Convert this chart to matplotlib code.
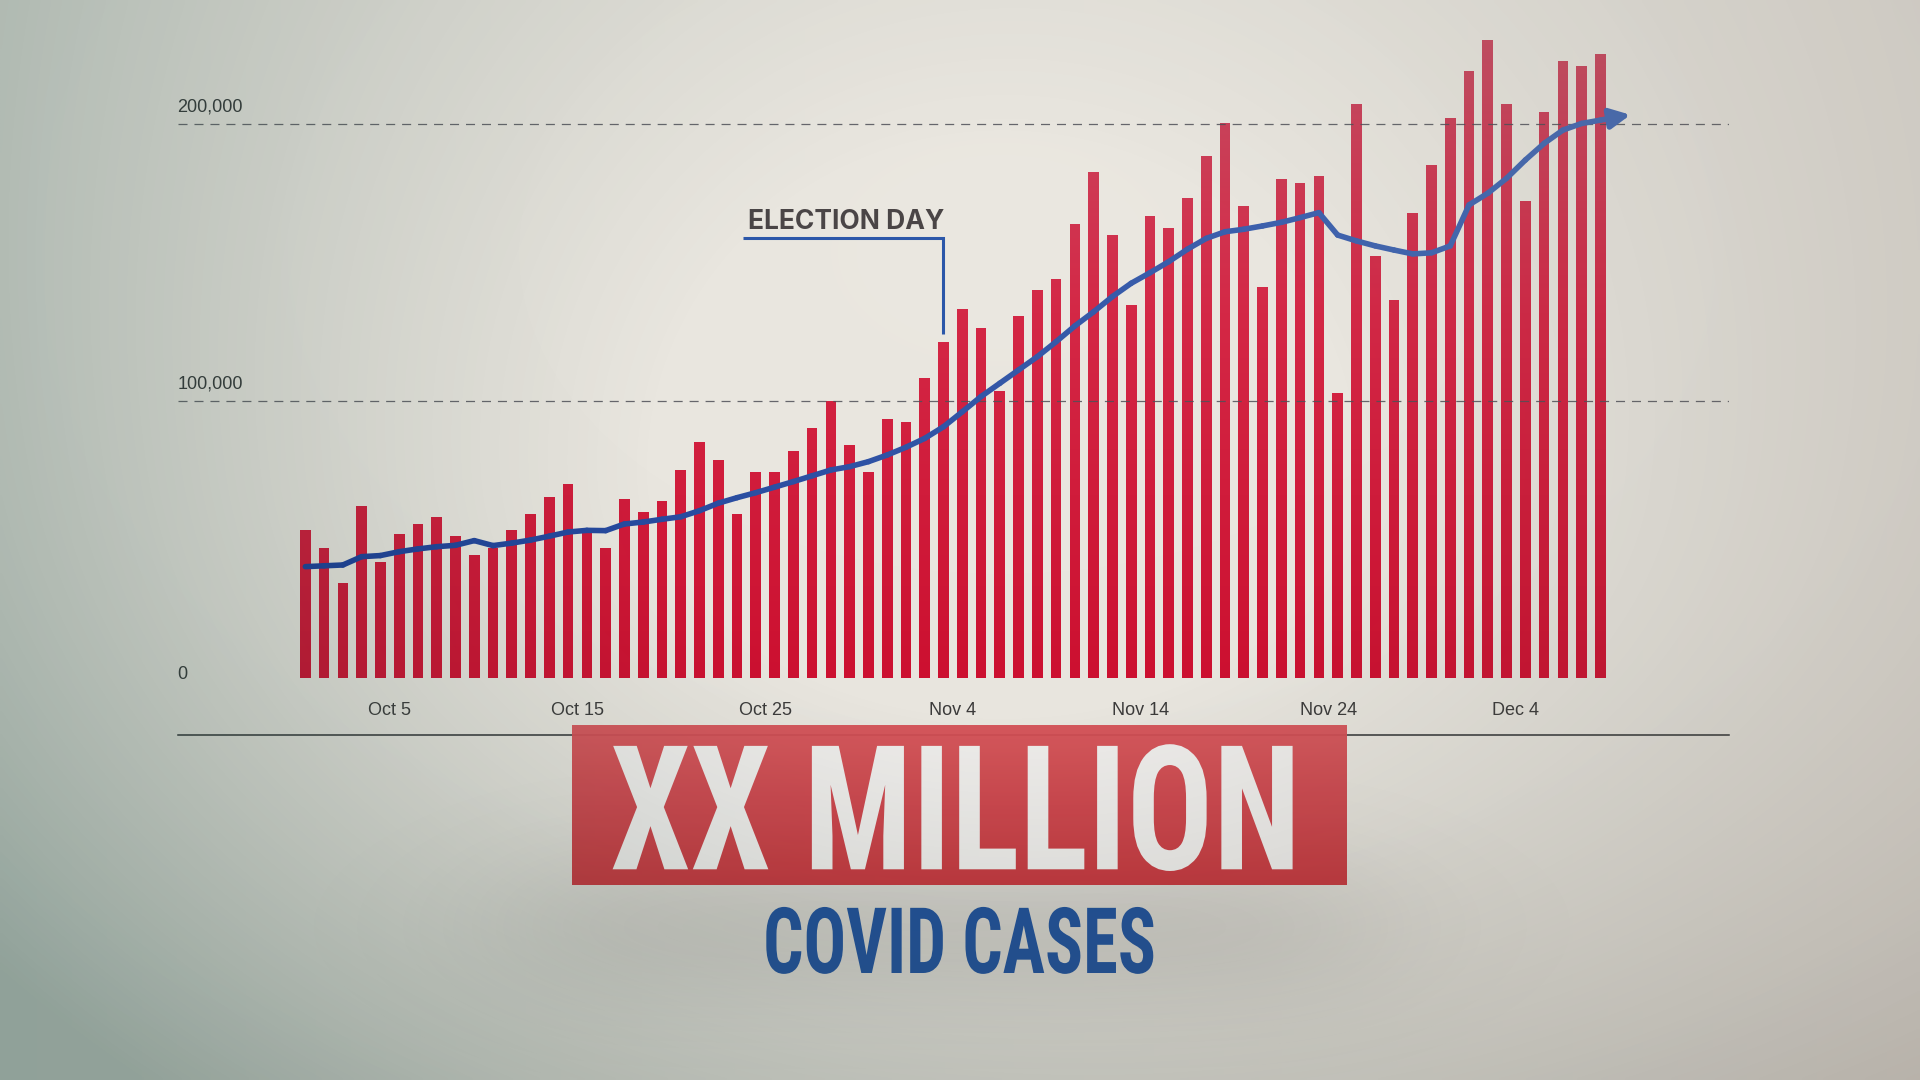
import numpy as np
import pandas as pd
import matplotlib
matplotlib.use("Agg")
import matplotlib.pyplot as plt
from matplotlib import patheffects, font_manager
from matplotlib.transforms import Affine2D, blended_transform_factory, offset_copy
from matplotlib.path import Path
from matplotlib.patches import PathPatch
from matplotlib.collections import LineCollection

# ---------------- data ----------------
START_DATE = "2020-09-30"
daily_cases = [
    53400, 47000, 34400, 62100, 41900, 52000, 55600, 58100, 51300, 44300,
    47000, 53400, 59200, 65500, 70100, 53100, 47000, 64600, 59900, 63800,
    75100, 85200, 78600, 59200, 74300, 74300, 81800, 90300, 100000, 84200,
    74300, 93500, 92500, 108400, 121400, 133200, 126400, 103700, 130700, 140100,
    143900, 163900, 182700, 159800, 134800, 166900, 162600, 173300, 188400, 200400,
    170400, 141200, 180100, 178700, 181200, 102800, 207100, 152200, 136300, 167900,
    185100, 202300, 219100, 230300, 207200, 172300, 204300, 222900, 221100, 225200,
]
avg_cases = [
    40200, 40500, 40800, 43800, 44200, 45600, 46600, 47400, 47900, 49600,
    47800, 48700, 49800, 51200, 52700, 53300, 53200, 55600, 56300, 57300,
    58200, 60400, 63100, 65100, 66900, 68900, 70900, 73000, 75100, 76300,
    78100, 80500, 83300, 86500, 90700, 96100, 101600, 106400, 111200, 116000,
    121400, 127100, 132200, 137700, 142500, 146300, 150300, 154800, 158700, 161100,
    162000, 163200, 164500, 166200, 168000, 159900, 157800, 156000, 154500, 153100,
    153500, 156000, 170800, 175000, 180400, 187000, 193000, 197800, 200200, 201400,
]
tick_labels = ["Oct 5", "Oct 15", "Oct 25", "Nov 4", "Nov 14", "Nov 24", "Dec 4"]
y_ticks = [0, 100000, 200000]
y_tick_labels = ["0", "100,000", "200,000"]
event_date = "2020-11-03"
event_label = "ELECTION DAY"
headline = "XX MILLION"
subheadline = "COVID CASES"

# ---------------- fonts ----------------
available = {f.name for f in font_manager.fontManager.ttflist}
def pick(*names):
    for n in names:
        if n in available:
            return n
    return "DejaVu Sans"
COND = pick("Liberation Sans Narrow", "Roboto Condensed", "DejaVu Sans")
SANS = pick("Liberation Sans", "Inter", "DejaVu Sans")
BOLD = pick("Inter", "Lato", "DejaVu Sans")
plt.rcParams["lines.scale_dashes"] = False


class Condense(patheffects.AbstractPathEffect):
    """Squeeze the rendered text horizontally to a target width (px at 100 dpi)."""
    def __init__(self, width_px):
        super().__init__()
        self.width_px = width_px

    def draw_path(self, renderer, gc, tpath, affine, rgbFace=None):
        bb = tpath.get_extents(affine)
        target = renderer.points_to_pixels(self.width_px * 0.72)
        sx = target / bb.width if bb.width > 0 else 1.0
        c = 0.5 * (bb.x0 + bb.x1)
        t = affine + Affine2D().translate(-c, 0).scale(sx, 1).translate(c, 0)
        renderer.draw_path(gc, tpath, t, rgbFace)


dates = pd.date_range(START_DATE, periods=len(daily_cases), freq="D")
x = np.arange(len(dates))
cases = np.array(daily_cases, dtype=float)
avg = np.array(avg_cases, dtype=float)
tick_pos = [(pd.Timestamp(lbl + " 2020") - dates[0]).days - 0.5 for lbl in tick_labels]
ev_idx = int((pd.Timestamp(event_date) - dates[0]).days)

W, H = 1920, 1080
fig = plt.figure(figsize=(19.2, 10.8), dpi=100)

# ---------------- background ----------------
gy, gx = np.mgrid[0:H:4, 0:W:4].astype(float)
bg_ax = fig.add_axes([0, 0, 1, 1], zorder=0)
base = np.array([233, 230, 223]) / 255.0
lift = np.exp(-(((gx - 1000) / 900) ** 2 + ((gy - 250) / 600) ** 2))[..., None]
bg = base * (0.985 + 0.02 * lift)
bg_ax.imshow(np.clip(bg, 0, 1), extent=[0, W, H, 0], aspect="auto", interpolation="bilinear")
bg_ax.set_xlim(0, W); bg_ax.set_ylim(H, 0); bg_ax.axis("off")

# ---------------- chart ----------------
ax = fig.add_axes([177.5 / W, (H - 735) / H, (1729 - 177.5) / W, 721.8 / H], zorder=2)
ax.set_facecolor("none")

bars = ax.bar(x, cases, width=0.57, color="#cf1a3c", linewidth=0, zorder=2)
paths = [b.get_path().transformed(b.get_patch_transform()) for b in bars]
compound = Path.make_compound_path(*paths)
clip = PathPatch(compound, transform=ax.transData, facecolor="none", edgecolor="none")
XL = (-6.81, 75.85)
YL = (-20580, 240000)
c_bot = np.array([204, 16, 48]) / 255.0
c_mid = np.array([212, 40, 70]) / 255.0
c_top = np.array([200, 80, 102]) / 255.0
tt = np.linspace(0, 1, 256)[:, None]
grad = np.where(tt < 0.55, c_bot + (c_mid - c_bot) * (tt / 0.55),
                c_mid + (c_top - c_mid) * ((tt - 0.55) / 0.45))
im = ax.imshow(grad[:, None, :], extent=[XL[0], XL[1], 0, 240000], origin="lower",
               aspect="auto", interpolation="bilinear", zorder=2.1)
im.set_clip_path(clip)

for yt in y_ticks[1:]:
    ax.axhline(yt, color="#4f5058", lw=0.9, dashes=(6.5, 5.0), alpha=0.85, zorder=3)

# moving-average line with colour drift
pts = np.column_stack([x, avg])
segs = np.stack([pts[:-1], pts[1:]], axis=1)
c0 = np.array([27, 62, 152]) / 255.0
c1 = np.array([72, 108, 180]) / 255.0
fr = np.linspace(0, 1, len(segs))[:, None]
lc = LineCollection(segs, colors=c0 + (c1 - c0) * fr, linewidths=4.0,
                    capstyle="round", joinstyle="round", zorder=5)
ax.add_collection(lc)
tip_x = x[-1] + 1.6
tip_y = avg[-1] + 1.6 * (avg[-1] - avg[-2])
ax.annotate("", xy=(tip_x, tip_y), xytext=(x[-1], avg[-1]),
            arrowprops=dict(arrowstyle="-|>,head_length=0.6,head_width=0.3",
                            color=c1, lw=4.0, shrinkA=0, shrinkB=0,
                            mutation_scale=20), zorder=5)

# election-day annotation
ann_y = 158700
ann_x0 = ev_idx - 10.7
ax.plot([ann_x0, ev_idx, ev_idx], [ann_y, ann_y, cases[ev_idx] + 2800],
        color="#2c57a9", lw=2.2, solid_joinstyle="miter", solid_capstyle="butt", zorder=5)
ax.text(ann_x0 + 0.3, ann_y, event_label,
        transform=offset_copy(ax.transData, fig=fig, y=6.5, units="points"),
        fontsize=19, fontweight="bold", family=BOLD, color="#4a4546",
        ha="left", va="baseline", zorder=6)

# axes cosmetics
ax.set_xlim(*XL)
ax.set_ylim(*YL)
for s in ["left", "right", "top"]:
    ax.spines[s].set_visible(False)
ax.spines["bottom"].set_color("#2f3133")
ax.spines["bottom"].set_linewidth(1.1)
ax.set_xticks(tick_pos, tick_labels)
ax.tick_params(axis="x", length=0, pad=-17.3, labelsize=13, labelcolor="#3b3a3a")
for lbl in ax.get_xticklabels():
    lbl.set_va("center")
    lbl.set_family(SANS)
ax.set_yticks([])
ytrans = blended_transform_factory(ax.transAxes, ax.transData)
for v, lbl in zip(y_ticks, y_tick_labels):
    dy = 12.2 if v > 0 else 2.2
    ax.text(0, v, lbl, transform=offset_copy(ytrans, fig=fig, y=dy, units="points"),
            ha="left", va="center", fontsize=13, family=SANS, color="#353838")

# ---------------- headline block ----------------
ov = fig.add_axes([0, 0, 1, 1], zorder=3)
ov.set_facecolor("none")
fx = 1.0 / (1.0 + np.exp((np.abs(gx - 940) - 420) / 60))
fy = np.exp(-0.5 * ((gy - 925) / 60) ** 2)
sh = np.zeros(gx.shape + (4,))
sh[..., :3] = 0.25
sh[..., 3] = 0.13 * fx * fy
ov.imshow(sh, extent=[0, W, H, 0], aspect="auto", interpolation="bilinear", zorder=1)

b_top = np.array([212, 80, 86]) / 255.0
b_bot = np.array([196, 44, 52]) / 255.0
bt = np.linspace(0, 1, 128)[:, None]
box = (b_top + (b_bot - b_top) * bt)[:, None, :]
ov.imshow(box, extent=[572, 1347, 885, 725], origin="upper", aspect="auto",
          interpolation="bilinear", alpha=0.95, zorder=2)
ov.text(956, 869.3, headline, ha="center", va="baseline", fontsize=125,
        family=COND, fontweight="bold", color="#eeecea",
        path_effects=[Condense(680)], zorder=3)
ov.text(959.5, 973, subheadline, ha="center", va="baseline", fontsize=66,
        family=COND, fontweight="bold", color="#1d4e98",
        path_effects=[Condense(387)], zorder=3)
ov.set_xlim(0, W); ov.set_ylim(H, 0); ov.axis("off")

# ---------------- vignette ----------------
vg = fig.add_axes([0, 0, 1, 1], zorder=5)
cx, cy = 1000, 470
dxn = (gx - cx) / 1150
dyn = np.where(gy < cy, (gy - cy) / 1100, (gy - cy) / 800)
r = np.sqrt(dxn ** 2 + dyn ** 2)
k = (1 - 0.3 * gx / W) * (0.7 + 0.3 * gy / H)
a = np.clip(0.6 * k * np.clip(r - 0.3, 0, None), 0, 0.45)
tl = np.array([40, 82, 72]) / 255.0
tr = np.array([95, 85, 75]) / 255.0
tint = tl + (tr - tl) * (gx / W)[..., None]
vig = np.concatenate([tint, a[..., None]], axis=-1)
vg.imshow(vig, extent=[0, W, H, 0], aspect="auto", interpolation="bilinear")
vg.set_xlim(0, W); vg.set_ylim(H, 0); vg.axis("off")

fig.savefig("out.png", dpi=100)
